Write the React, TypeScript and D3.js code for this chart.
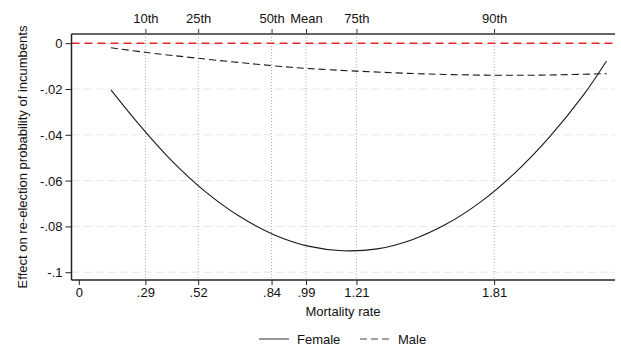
import {useEffect, useRef} from "react";
import * as d3 from "d3";

// percentile markers on the top axis
const pctValues = [0.29, 0.52, 0.84, 0.99, 1.21, 1.81];
const pctLabels = ["10th", "25th", "50th", "Mean", "75th", "90th"];

// bottom axis ticks
const xTicks = [0, 0.29, 0.52, 0.84, 0.99, 1.21, 1.81];
const xTickLabels = ["0", ".29", ".52", ".84", ".99", "1.21", "1.81"];

// left axis ticks
const yTicks = [0, -0.02, -0.04, -0.06, -0.08, -0.1];
const yTickLabels = ["0", "-.02", "-.04", "-.06", "-.08", "-.1"];

// estimated curves
const femaleX = [0.14, 0.25, 0.4, 0.55, 0.7, 0.85, 1.0, 1.15, 1.3, 1.45, 1.6, 1.75, 1.9, 2.05, 2.2, 2.3];
const femaleY = [-0.0204, -0.034, -0.0508, -0.0647, -0.0756, -0.0836, -0.0886, -0.0906, -0.0898, -0.0859, -0.0791, -0.0694, -0.0567, -0.0411, -0.0226, -0.0078];

const maleX = [0.14, 0.29, 0.52, 0.84, 0.99, 1.21, 1.5, 1.81, 2.05, 2.3];
const maleY = [-0.002, -0.004, -0.0066, -0.0098, -0.011, -0.0122, -0.0134, -0.014, -0.0139, -0.0133];

export default function App() {
    const ref = useRef<SVGSVGElement>(null);

    useEffect(() => {
        const width = 621, height = 349;
        const left = 71.5, right = 615, top = 34, bottom = 280;
        const fs = 13;

        const svg = d3.select(ref.current);
        svg.selectAll("*").remove();

        const x = d3.scaleLinear().domain([-0.032, 2.337]).range([left, right]);
        const y = d3.scaleLinear().domain([-0.1034, 0.004]).range([bottom, top]);

        const font = "'Liberation Sans', Arial, sans-serif";

        // horizontal gridlines
        svg.append("g").selectAll("line")
            .data(yTicks.filter(d => d !== 0))
            .enter().append("line")
            .attr("x1", left).attr("x2", right)
            .attr("y1", d => y(d)).attr("y2", d => y(d))
            .attr("stroke", "#e6e6e6").attr("stroke-width", 1)
            .attr("stroke-dasharray", "8,4");

        // vertical dotted percentile lines
        svg.append("g").selectAll("line")
            .data(pctValues)
            .enter().append("line")
            .attr("x1", d => x(d)).attr("x2", d => x(d))
            .attr("y1", top).attr("y2", bottom)
            .attr("stroke", "#aaa").attr("stroke-width", 1)
            .attr("stroke-dasharray", "1,2");

        // zero reference line
        svg.append("line")
            .attr("x1", left).attr("x2", right)
            .attr("y1", y(0)).attr("y2", y(0))
            .attr("stroke", "#e8262b").attr("stroke-width", 1.5)
            .attr("stroke-dasharray", "8,5");

        const line = d3.line<[number, number]>()
            .x(d => x(d[0])).y(d => y(d[1]))
            .curve(d3.curveCatmullRom);

        svg.append("path")
            .attr("d", line(femaleX.map((v, i) => [v, femaleY[i]] as [number, number])))
            .attr("fill", "none").attr("stroke", "#1a1a1a").attr("stroke-width", 1.1);

        svg.append("path")
            .attr("d", line(maleX.map((v, i) => [v, maleY[i]] as [number, number])))
            .attr("fill", "none").attr("stroke", "#1a1a1a").attr("stroke-width", 1.1)
            .attr("stroke-dasharray", "7,4");

        // top axis
        const topAxis = svg.append("g").attr("transform", `translate(0,${top})`)
            .call(d3.axisTop(x).tickValues(pctValues).tickFormat((d, i) => pctLabels[i]).tickSize(5).tickSizeOuter(0));
        topAxis.select(".domain").remove();
        topAxis.append("line").attr("x1", left).attr("x2", right).attr("y1", 0).attr("y2", 0)
            .attr("stroke", "#666").attr("stroke-width", 2.2);
        topAxis.selectAll(".tick line").attr("stroke", "#333");
        topAxis.selectAll(".tick text").attr("dy", 0).attr("y", -11)
            .attr("font-family", font).attr("font-size", fs).attr("fill", "#111");

        // bottom axis
        const bottomAxis = svg.append("g").attr("transform", `translate(0,${bottom})`)
            .call(d3.axisBottom(x).tickValues(xTicks).tickFormat((d, i) => xTickLabels[i]).tickSize(5).tickSizeOuter(0));
        bottomAxis.select(".domain").remove();
        bottomAxis.append("line").attr("x1", left).attr("x2", right).attr("y1", 0).attr("y2", 0)
            .attr("stroke", "#222").attr("stroke-width", 1.5);
        bottomAxis.selectAll(".tick line").attr("stroke", "#222");
        bottomAxis.selectAll(".tick text").attr("dy", 0).attr("y", 17)
            .attr("font-family", font).attr("font-size", fs).attr("fill", "#111");

        // left axis
        const leftAxis = svg.append("g").attr("transform", `translate(${left},0)`)
            .call(d3.axisLeft(y).tickValues(yTicks).tickFormat((d, i) => yTickLabels[i]).tickSize(6).tickSizeOuter(0));
        leftAxis.select(".domain").remove();
        leftAxis.append("line").attr("x1", 0).attr("x2", 0).attr("y1", top).attr("y2", bottom)
            .attr("stroke", "#222").attr("stroke-width", 1.5);
        leftAxis.selectAll(".tick line").attr("stroke", "#222");
        leftAxis.selectAll(".tick text").attr("x", -9).attr("dy", "0.35em")
            .attr("font-family", font).attr("font-size", fs).attr("fill", "#111");

        // axis titles
        svg.append("text")
            .attr("x", 343).attr("y", 316)
            .attr("text-anchor", "middle")
            .attr("font-family", font).attr("font-size", fs).attr("fill", "#111")
            .text("Mortality rate");

        svg.append("text")
            .attr("transform", `translate(27,157) rotate(-90)`)
            .attr("text-anchor", "middle")
            .attr("font-family", font).attr("font-size", fs).attr("fill", "#111")
            .text("Effect on re-election probability of incumbents");

        // legend
        const legend = svg.append("g").attr("transform", "translate(0,339)");
        legend.append("line").attr("x1", 259).attr("x2", 289).attr("y1", 0).attr("y2", 0)
            .attr("stroke", "#444").attr("stroke-width", 1.1);
        legend.append("text").attr("x", 297).attr("y", 4.5)
            .attr("font-family", font).attr("font-size", fs).attr("fill", "#111").text("Female");
        legend.append("line").attr("x1", 360).attr("x2", 391).attr("y1", 0).attr("y2", 0)
            .attr("stroke", "#444").attr("stroke-width", 1.1).attr("stroke-dasharray", "7,4");
        legend.append("text").attr("x", 398).attr("y", 4.5)
            .attr("font-family", font).attr("font-size", fs).attr("fill", "#111").text("Male");

        svg.attr("width", width).attr("height", height);
    }, []);

    return <svg ref={ref} width={621} height={349}
                style={{position: "absolute", left: 0, top: 0, background: "#fff"}}/>;
}
